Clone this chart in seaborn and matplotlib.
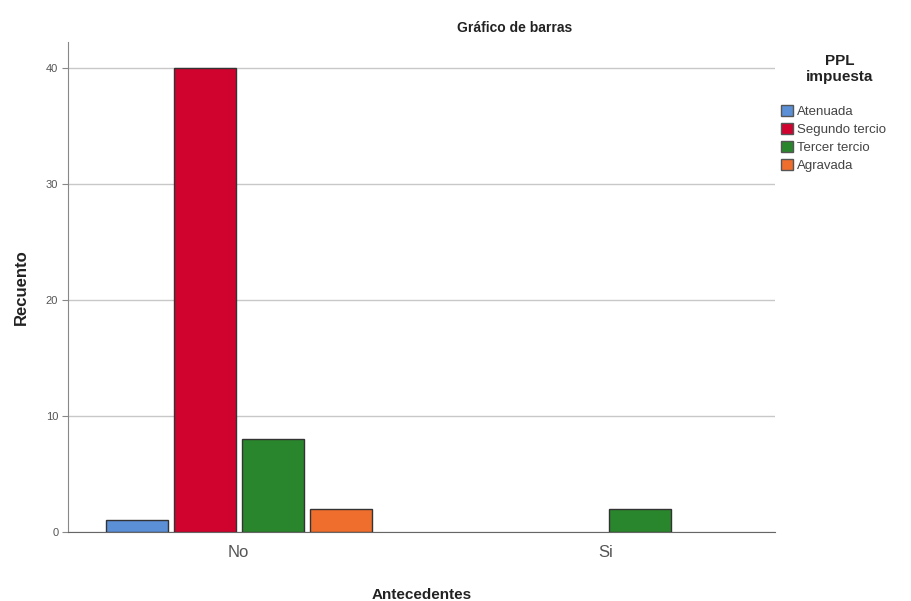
import matplotlib
matplotlib.use("Agg")
import matplotlib.pyplot as plt
import seaborn as sns
import pandas as pd
from matplotlib.patches import Patch

# Data
antecedentes = ["No", "Si"]
series = ["Atenuada", "Segundo tercio", "Tercer tercio", "Agravada"]
values_no = [1, 40, 8, 2]
values_si = [0, 0, 2, 0]
colors = ["#5b8fd6", "#d0022e", "#2a862c", "#ef6e2e"]

rows = []
for cat, vals in zip(antecedentes, [values_no, values_si]):
    for s, v in zip(series, vals):
        rows.append({"Antecedentes": cat, "PPL": s, "Recuento": v})
df = pd.DataFrame(rows)

sns.set_style("white")
plt.rcParams['font.family'] = ['Arial', 'Liberation Sans', 'DejaVu Sans']

fig = plt.figure(figsize=(9.11, 6.01), dpi=100)
ax = fig.add_axes([68/911, 1-532/601, (775-68)/911, (532-42)/601])

sns.barplot(data=df, x="Antecedentes", y="Recuento", hue="PPL",
            hue_order=series, order=antecedentes, palette=colors,
            saturation=1, width=0.74, gap=0.09, edgecolor="#333333",
            linewidth=1.0, errorbar=None, legend=False, ax=ax, zorder=3)

# hide zero-height bars
for p in ax.patches:
    if p.get_height() == 0:
        p.set_visible(False)

ax.set_ylim(0, 42.2)
ax.set_xlim(-0.465, 1.46)
ax.set_yticks([0, 10, 20, 30, 40])
ax.yaxis.grid(True, color="#c8c8c8", linewidth=1.0, zorder=0)
ax.set_axisbelow(True)
for s in ["top", "right"]:
    ax.spines[s].set_visible(False)
ax.spines["left"].set_color("#888888")
ax.spines["bottom"].set_color("#666666")
ax.tick_params(axis="y", which="both", left=True, length=4, color="#888888",
               labelsize=8, labelcolor="#555555", pad=3)
ax.tick_params(axis="x", bottom=False, labelsize=12, labelcolor="#555555", pad=6)

ax.set_ylabel("Recuento", fontsize=12, fontweight="bold", color="#222222", labelpad=12)
ax.set_xlabel("Antecedentes", fontsize=11, fontweight="bold", color="#222222", labelpad=20)

fig.text(515/911, 1-28/601, "Gráfico de barras", ha="center", va="center",
         fontsize=10, fontweight="bold", color="#222222")

fig.text(840/911, 1-69/601, "PPL\nimpuesta", ha="center", va="center",
         multialignment="center", fontsize=11, fontweight="bold",
         color="#222222", linespacing=1.15)

handles = [Patch(facecolor=c, edgecolor="#555555", label=s) for c, s in zip(colors, series)]
leg = fig.legend(handles=handles, loc="upper left",
                 bbox_to_anchor=(781/911, 1-105/601), frameon=False,
                 fontsize=9.5, handlelength=0.9, handleheight=0.9,
                 handletextpad=0.3, labelspacing=0.38, borderaxespad=0,
                 borderpad=0)
for t in leg.get_texts():
    t.set_color("#444444")

fig.savefig("out.png", dpi=100)
